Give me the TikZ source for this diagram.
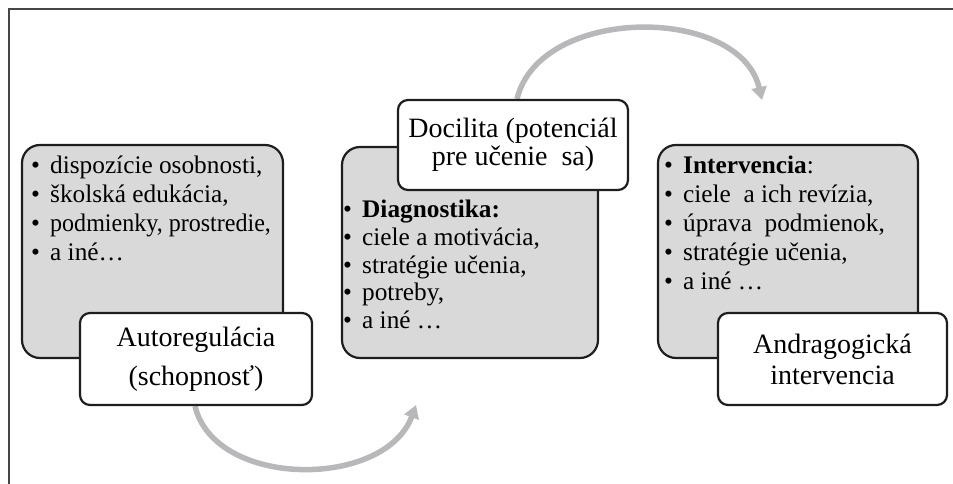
\documentclass[tikz,border=0pt]{standalone}
\usepackage{fontspec}
\usepackage{graphicx}
\setmainfont{Liberation Serif}
\usetikzlibrary{arrows.meta,calc}
\pgfdeclarelayer{bg}
\pgfsetlayers{bg,main}
\definecolor{boxgray}{RGB}{217,217,218}
\definecolor{arcgray}{RGB}{184,184,187}
\definecolor{edgecol}{RGB}{30,30,30}
\definecolor{framecol}{RGB}{70,70,70}
\newcommand{\blt}{\makebox[19pt][l]{\textbullet}}
\begin{document}
\begin{tikzpicture}[x=1pt,y=-1pt,
  graybox/.style={draw=edgecol, line width=2.2pt, fill=boxgray, rounded corners=18pt, inner sep=0pt, rectangle},
  titlebox/.style={draw=edgecol, line width=2.2pt, fill=white, rounded corners=10pt, inner sep=0pt, align=center, rectangle},
  listtext/.style={anchor=base west, inner sep=0pt, font=\fontsize{25.3}{29}\selectfont},
  flow/.style={draw=arcgray, line width=5.5pt, -{Triangle[length=13pt,width=15pt]}},
  framerule/.style={draw=framecol, line width=1.8pt}]
\useasboundingbox (0,0) rectangle (953,484);
% frame
\coordinate (fa) at (9,484);
\coordinate (fb) at (9,9);
\coordinate (fc) at (953,9);
\draw[framerule] (fa) -- (fb) -- (fc);

% gray boxes
\node[graybox, minimum width=261pt, minimum height=213pt] (g1) at (152.5,251.5) {};
\node[graybox, minimum width=256pt, minimum height=211pt] (g2) at (470,252.5) {};
\node[graybox, minimum width=260pt, minimum height=213pt] (g3) at (788,251.5) {};

% left list
\node[listtext] (a1) at (31,173) {\blt dispozície osobnosti,};
\node[listtext] (a2) at (31,202) {\blt školská edukácia,};
\node[listtext] (a3) at (31,231) {\blt \scalebox{0.95}[1]{podmienky, prostredie,}};
\node[listtext] (a4) at (31,260) {\blt a iné\ldots};

% middle list
\node[listtext] (b1) at (343,217) {\blt \textbf{Diagnostika:}};
\node[listtext] (b2) at (343,245) {\blt ciele a motivácia,};
\node[listtext] (b3) at (343,273) {\blt stratégie učenia,};
\node[listtext] (b4) at (343,300) {\blt potreby,};
\node[listtext] (b5) at (343,328) {\blt a iné \ldots};

% right list
\node[listtext] (c1) at (664,173) {\blt \textbf{Intervencia}:};
\node[listtext] (c2) at (664,202) {\blt ciele\ \ a ich revízia,};
\node[listtext] (c3) at (664,231) {\blt úprava\ \ podmienok,};
\node[listtext] (c4) at (664,260) {\blt stratégie učenia,};
\node[listtext] (c5) at (664,289) {\blt a iné \ldots};

% title boxes
\node[titlebox, minimum width=232pt, minimum height=92pt, font=\fontsize{28}{39}\selectfont] (auto) at (196,359) {Autoregulácia\\(schopnosť)};
\node[titlebox, minimum width=230pt, minimum height=90pt, font=\fontsize{28}{28}\selectfont] (doc) at (513,145) {Docilita (potenciál\\pre učenie\ \ sa)};
\node[titlebox, minimum width=229pt, minimum height=92pt, font=\fontsize{28}{31}\selectfont] (andr) at (832.5,359) {Andragogická\\intervencia};

% arcs
\coordinate (topend) at (762,100);
\coordinate (botend) at (416,405);
\begin{pgfonlayer}{bg}
\draw[flow] ($(doc.north)+(4,0)$) .. controls (540,5) and (740,5) .. (topend);
\draw[flow] ($(auto.south)+(-1,0)$) .. controls (215,489) and (385,489) .. (botend);
\end{pgfonlayer}
\end{tikzpicture}
\end{document}
